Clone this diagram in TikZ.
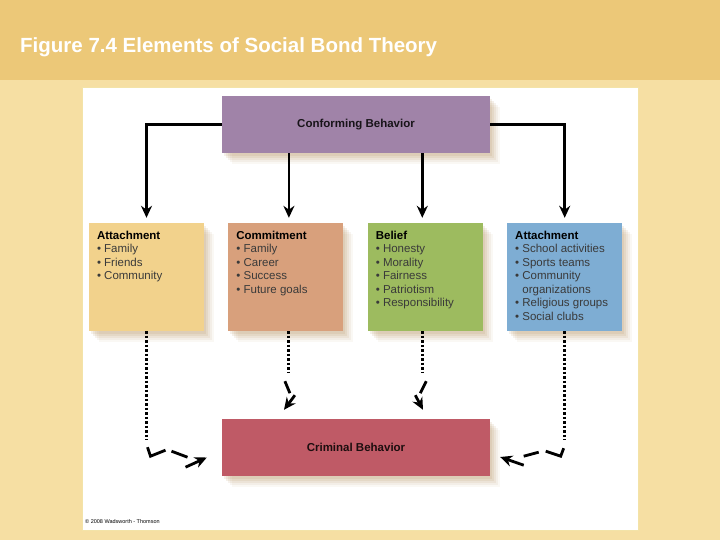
\documentclass[tikz,border=0pt]{standalone}
\usepackage{fontspec}
\setmainfont{Liberation Sans}
\usetikzlibrary{arrows.meta,positioning,shadows}

\definecolor{stripc}{HTML}{ECC878}
\definecolor{paperc}{HTML}{F6DFA3}
\definecolor{framec}{HTML}{F3E3A8}
\definecolor{conformc}{HTML}{A083A8}
\definecolor{attachc}{HTML}{F2D28C}
\definecolor{commitc}{HTML}{D8A07C}
\definecolor{beliefc}{HTML}{9DBB5F}
\definecolor{involvec}{HTML}{7EADD3}
\definecolor{crimec}{HTML}{BF5A66}
\definecolor{shadowc}{HTML}{B08850}
\definecolor{itemc}{HTML}{3A3A3A}

% heading plus bullet list, top aligned in a fixed box
\newcommand{\bondlist}[2]{\parbox[t][92pt][t]{99pt}{\textbf{#1}\\\color{itemc}#2}}

\begin{document}
\begin{tikzpicture}[
x=1pt, y=-1pt,
node distance=24pt,
softshadow/.style={
  general shadow={shadow xshift=2pt, shadow yshift=-3pt, fill=shadowc, opacity=0.12},
  general shadow={shadow xshift=4pt, shadow yshift=-5pt, fill=shadowc, opacity=0.12},
  general shadow={shadow xshift=6pt, shadow yshift=-7pt, fill=shadowc, opacity=0.1},
  general shadow={shadow xshift=8pt, shadow yshift=-9pt, fill=shadowc, opacity=0.08},
  general shadow={shadow xshift=10pt, shadow yshift=-11pt, fill=shadowc, opacity=0.06}},
mainbox/.style={rectangle, softshadow, minimum width=268pt, minimum height=57pt, font=\fontsize{11.5}{13.5}\selectfont\bfseries},
bondbox/.style={rectangle, softshadow, inner xsep=8pt, inner ysep=8pt, font=\fontsize{11.5}{13.5}\selectfont},
flow/.style={line width=2.8pt, -{Stealth[length=12pt, width=11pt]}, shorten >=5pt},
dotline/.style={line width=3pt, dash pattern=on 2.5pt off 2pt},
dashpart/.style={line width=2.8pt},
dashtip/.style={line width=2.8pt, -{Stealth[length=12pt, width=11pt]}}
]
% background
\fill[paperc] (0,0) rectangle (720,540);
\fill[stripc] (0,0) rectangle (720,80);
\useasboundingbox (0,0) rectangle (720,540);
\filldraw[fill=white, draw=framec, line width=1pt] (82,88) rectangle (638,530);

\node[anchor=base west, inner sep=0, text=white, font=\fontsize{20.5}{24}\selectfont\bfseries] (title) at (20,53) {Figure 7.4 Elements of Social Bond Theory};

\node[mainbox, fill=conformc, text=black!85!conformc] (conform) at (356,124.5) {Conforming Behavior};
\node[bondbox, fill=attachc] (attach) at (146.5,277) {\bondlist{Attachment}{• Family\\• Friends\\• Community}};
\node[bondbox, fill=commitc, right=of attach] (commit) {\bondlist{Commitment}{• Family\\• Career\\• Success\\• Future goals}};
\node[bondbox, fill=beliefc, right=of commit] (belief) {\bondlist{Belief}{• Honesty\\• Morality\\• Fairness\\• Patriotism\\• Responsibility}};
\node[bondbox, fill=involvec, right=of belief] (involve) {\bondlist{Attachment}{• School activities\\• Sports teams\\• Community\\\phantom{• }organizations\\• Religious groups\\• Social clubs}};
\node[mainbox, fill=crimec, text=black!85!crimec] (crime) at (356,447.5) {Criminal Behavior};

\node[anchor=base west, inner sep=0, font=\fontsize{5.5}{6}\selectfont] (copy) at (85,523) {© 2008 Wadsworth - Thomson};

% conforming behavior to the bonds
\draw[flow] (conform.west) -| (attach.north);
\draw[flow] (conform.east) -| (involve.north);
\draw[flow] (conform.south -| commit.north) ++(3,0) -- ([xshift=3pt]commit.north);
\draw[flow] (conform.south -| belief.north) ++(-3,0) -- ([xshift=-3pt]belief.north);

% bonds to criminal behavior
\draw[dotline] (attach.south) -- ++(0,109) coordinate (attachend);
\draw[dashpart] ([shift={(1,7)}]attachend) -- ++(3,9) -- ++(15,-6);
\draw[dashpart] ([shift={(25,11)}]attachend) -- ++(16,6);
\draw[dashtip] ([shift={(39,27)}]attachend) -- ([shift={(-15,10)}]crime.west);

\draw[dotline] ([xshift=3pt]commit.south) -- ++(0,42) coordinate (commitend);
\draw[dashpart] ([shift={(-4,8)}]commitend) -- ++(5,12);
\draw[dashtip] ([shift={(6,22)}]commitend) -- ([shift={(-72,-9)}]crime.north);

\draw[dotline] ([xshift=-3pt]belief.south) -- ++(0,42) coordinate (beliefend);
\draw[dashpart] ([shift={(4,8)}]beliefend) -- ++(-6,12);
\draw[dashtip] ([shift={(-7,22)}]beliefend) -- ([shift={(67,-9)}]crime.north);

\draw[dotline] (involve.south) -- ++(0,109) coordinate (involveend);
\draw[dashpart] ([shift={(-1,8)}]involveend) -- ++(-3,8) -- ++(-15,-5);
\draw[dashpart] ([shift={(-26,12)}]involveend) -- ++(-15,4);
\draw[dashtip] ([shift={(-41,25)}]involveend) -- ([shift={(10,9.5)}]crime.east);
\end{tikzpicture}
\end{document}
